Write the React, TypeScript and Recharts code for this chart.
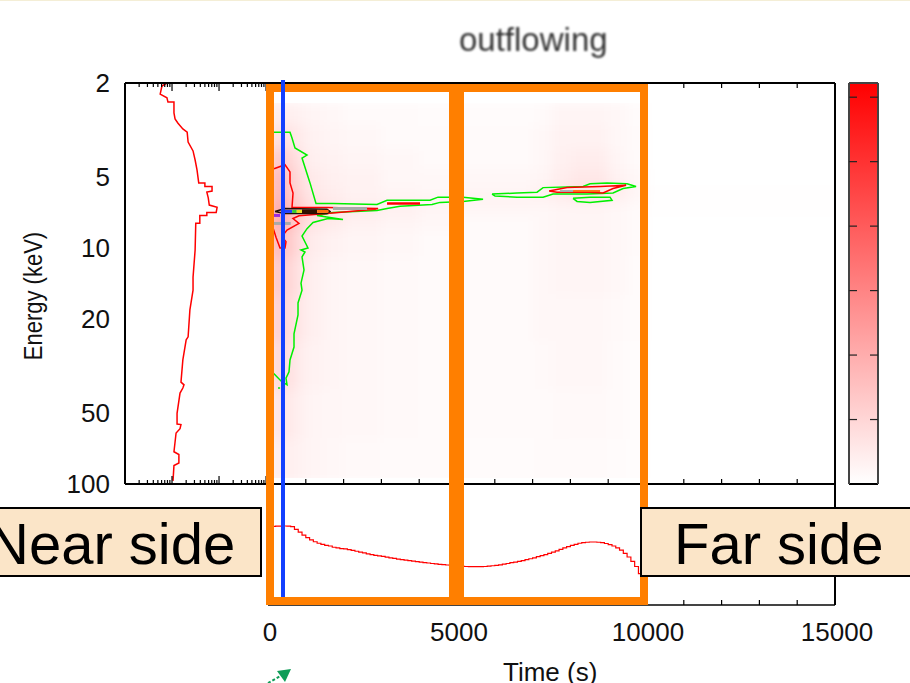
import React from 'react';
import { ComposedChart, Line, XAxis, YAxis, ReferenceArea } from 'recharts';

const W = 910;
const H = 683;
const FONT = '"Liberation Sans", Arial, sans-serif';

type Pair = [number, number];

// axis ticks
const timeTicks = [0, 1000, 2000, 3000, 4000, 5000, 6000, 7000, 8000, 9000, 10000, 11000, 12000, 13000, 14000, 15000];
const timeLabels = [0, 5000, 10000, 15000];
const energyTicks = [2, 3, 4, 5, 6, 7, 8, 9, 10, 20, 30, 40, 50, 60, 70, 80, 90, 100];
const energyLabels = [2, 5, 10, 20, 50, 100];
const energyMajor = [2, 5, 10, 20, 50, 100];
const countTicks = [2, 3, 4, 5, 6, 7, 8, 9, 10, 20, 30, 40, 50, 60, 70, 80, 90, 100, 200, 300, 400, 500, 600, 700, 800, 900, 1000];
const countMajor = [10, 100, 1000];
const rateTicks = [1, 2, 3, 4, 5, 6, 7, 8, 9, 10, 20, 30, 40, 50, 60, 70, 80, 90, 100, 200, 300, 400, 500, 600, 700, 800, 900, 1000];
const rateMajor = [1, 10, 100, 1000];
const barTicks = [1, 2, 3, 4, 5, 6];

// heat map: time bins, energy bins, red strength in percent
const heatTimes = [0, 250, 500, 750, 1000, 1500, 2000, 3000, 4000, 5000, 6000, 7000, 7500, 8000, 9000, 9500, 10000, 15000];
const heatEnergies = [2.4, 3, 3.8, 4.6, 5.4, 6, 6.6, 7.4, 8.5, 11, 16, 25, 40, 65, 100];
const heatValues = [
  [7, 7, 6, 5, 4, 3, 2, 2, 1.5, 1.5, 1.5, 2, 4, 4, 3, 1.5, 0],
  [12, 12, 10, 8, 5, 4, 3, 2, 2, 2, 2, 3, 5, 5, 3, 2, 0],
  [21, 20, 15, 10, 6, 5, 4, 3, 2, 2, 2, 3, 6, 7, 4, 2, 0],
  [28, 26, 19, 13, 8, 6, 5, 3, 3, 3, 3, 4, 7, 9, 5, 3, 0],
  [29, 27, 20, 14, 9, 7, 5, 4, 3, 4, 4, 6, 9, 12, 8, 4, 0.5],
  [31, 29, 22, 16, 10, 8, 6, 5, 5, 5, 5, 5, 6, 7, 5, 3, 0.5],
  [34, 34, 26, 20, 13, 10, 8, 6, 4, 3, 3, 3, 4, 4, 3, 2, 0.3],
  [33, 31, 23, 16, 10, 8, 5, 4, 3, 2, 2, 3, 4, 4, 3, 2, 0],
  [28, 26, 19, 13, 7, 5, 4, 3, 2, 2, 2, 3, 4, 4, 3, 2, 0],
  [22, 20, 15, 10, 6, 4, 3, 2.5, 2, 2, 2, 3, 4, 4, 3, 1.5, 0],
  [19, 17, 13, 9, 6, 4, 3, 2.5, 2, 2, 2, 3, 3, 3, 2.5, 1.5, 0],
  [15, 14, 11, 7, 5, 4, 3, 2.5, 2, 2, 2, 2.5, 3, 3, 2, 1, 0],
  [10, 10, 8, 6, 4, 3.5, 3, 2.5, 2, 2, 2, 2, 2.5, 2.5, 2, 1, 0],
  [7, 7, 6, 5, 4, 3, 2.5, 2, 2, 1.5, 1.5, 2, 2, 2, 1.5, 1, 0],
];

// contours, [time, energy]
const greenMain: Pair[] = [
  [132, 3.23], [582, 3.23], [635, 3.42], [714, 3.77], [1032, 4.04], [900, 4.16], [1111, 5.3], [1270, 6.48],
  [1720, 6.48], [2884, 6.54], [3149, 6.28], [4022, 6.28], [4287, 6.28], [4498, 6.09], [4816, 6.09], [5160, 6.09],
  [5689, 6.22], [5160, 6.35], [4551, 6.41], [4339, 6.54], [3493, 6.66], [3149, 6.8], [2884, 6.93], [1720, 7.07],
  [1297, 7.28], [1985, 7.57], [1588, 7.5], [1191, 7.8], [1032, 8.28], [900, 8.9], [1058, 10.0], [873, 10.2], [979, 10.4], [900, 10.9],
  [953, 12.4], [873, 14.1], [900, 15.1], [794, 17.1], [794, 19.2], [688, 23.1], [688, 26.3], [582, 29.8],
  [556, 33.5], [476, 35.6], [503, 38], [344, 36.6], [132, 33.8],
];
const greenStub: Pair[] = [[265, 39.2], [320, 39.2]];
const greenFar: Pair[] = [
  [5927, 5.91], [6589, 5.85], [7118, 5.8], [7277, 5.55], [8335, 5.49], [8520, 5.35], [8970, 5.3], [9499, 5.35],
  [9737, 5.49], [9393, 5.6], [9129, 5.85], [8441, 5.91], [7541, 5.91], [7277, 6.09], [6589, 6.09], [6006, 6.03], [5927, 5.91],
];
const greenSmall: Pair[] = [
  [8070, 6.16], [8520, 6.09], [9049, 6.09], [9102, 6.28], [8520, 6.41], [8176, 6.35], [8070, 6.16],
];
const redMain: Pair[] = [
  [159, 4.62], [450, 4.44], [582, 4.76], [582, 5.3], [662, 5.85], [635, 6.73], [1561, 6.73], [2911, 6.8], [2832, 6.86],
  [1561, 7.14], [820, 7.3], [660, 7.5], [820, 7.87], [503, 8.4], [370, 8.95], [476, 9.4], [450, 10.0], [318, 10.0], [212, 9.0], [132, 8.2],
];
const redStrip: Pair[] = [[3149, 6.48], [4022, 6.48]];
const redFar: Pair[] = [
  [7435, 5.74], [7911, 5.55], [8785, 5.49], [9473, 5.42], [9129, 5.6], [8864, 5.85], [8520, 5.8], [7647, 5.8], [7435, 5.74],
];
const blackNear: Pair[] = [
  [185, 7.0], [450, 6.8], [1561, 6.86], [1640, 7.0], [1561, 7.14], [450, 7.14], [185, 7.0],
];
const streaks: { color: string; width: number; pts: Pair[] }[] = [
  { color: '#9a2be0', width: 3, pts: [[132, 7.28], [318, 7.28]] },
  { color: '#2040ff', width: 3, pts: [[450, 7.0], [640, 7.0]] },
  { color: '#30d030', width: 3, pts: [[640, 7.0], [760, 7.0]] },
  { color: '#e8e020', width: 3, pts: [[760, 7.0], [900, 7.0]] },
  { color: '#301000', width: 4, pts: [[900, 7.0], [1300, 7.0]] },
  { color: '#ff7010', width: 3, pts: [[1300, 7.0], [1600, 7.0]] },
  { color: '#a9a9a9', width: 3, pts: [[1720, 6.8], [2620, 6.8]] },
  { color: '#a9a9a9', width: 3, pts: [[140, 7.87], [600, 7.87]] },
  { color: '#a9a9a9', width: 2, pts: [[7726, 5.74], [8070, 5.74]] },
  { color: '#ff7010', width: 2, pts: [[8070, 5.74], [8785, 5.74]] },
];

// left panel, energy profile: [counts, energy]
const profile: Pair[] = [
  [7.8, 2], [6.1, 2.06], [5.6, 2.23], [7.8, 2.31], [8.2, 2.41], [11, 2.41], [11, 2.68], [11.6, 2.84], [13.4, 2.96],
  [17, 3.13], [21, 3.23], [22, 3.56], [28, 3.88], [31, 4.24], [34, 4.67], [37, 5.3], [50, 5.3], [50, 5.49], [71, 5.49],
  [71, 5.74], [55, 5.8], [59, 6.13], [62, 6.58], [91, 6.73], [87, 7.07], [55, 7.07], [55, 7.28], [39, 7.28], [39, 7.85],
  [32, 7.85], [31, 10.2], [28, 13.3], [28, 15.1], [24, 18.3], [22, 23.8], [20, 24.5], [17, 29.8], [15.5, 37], [18, 38],
  [17, 39.2], [14.8, 41.2], [12.8, 50.2], [12.8, 55.7], [15.5, 56], [14.8, 58.3], [12.2, 60.8], [11, 73], [14, 75],
  [14, 81.5], [11, 83.5], [10.5, 97],
];

// bottom panel, light curve: 100 s bins, then the flat tail
const curveTimes = [
  0, 100, 200, 300, 400, 500, 600, 700, 800, 900, 1000, 1100, 1200, 1300, 1400, 1500, 1600, 1700, 1800, 1900,
  2000, 2100, 2200, 2300, 2400, 2500, 2600, 2700, 2800, 2900, 3000, 3100, 3200, 3300, 3400, 3500, 3600, 3700, 3800, 3900,
  4000, 4100, 4200, 4300, 4400, 4500, 4600, 4700, 4800, 4900, 5000, 5100, 5200, 5300, 5400, 5500, 5600, 5700, 5800, 5900,
  6000, 6100, 6200, 6300, 6400, 6500, 6600, 6700, 6800, 6900, 7000, 7100, 7200, 7300, 7400, 7500, 7600, 7700, 7800, 7900,
  8000, 8100, 8200, 8300, 8400, 8500, 8600, 8700, 8800, 8900, 9000, 9100, 9200, 9300, 9400, 9500, 9600, 9700, 9800, 9900,
  10000, 15000,
];
const curveRates = [
  89, 89, 90, 90, 91, 90, 88, 75, 64, 54, 47, 41, 37, 34, 32, 30, 29, 27, 26, 25,
  24.5, 23.5, 22.5, 21.5, 20.5, 19.5, 18.5, 17.7, 17, 16.5, 16, 15.4, 14.8, 14.3, 13.8, 13.4, 13, 12.6, 12.2, 11.9,
  11.6, 11.3, 11, 10.7, 10.5, 10.2, 10, 9.8, 9.6, 9.4, 9.2, 9.1, 9, 8.9, 8.9, 8.9, 8.9, 9, 9.2, 9.4,
  9.6, 9.9, 10.3, 10.7, 11.2, 11.6, 12, 12.6, 13.3, 14, 14.8, 15.8, 16.8, 17.8, 19, 20.5, 22, 24, 26, 28,
  30, 32, 34, 35, 36, 36.5, 36.5, 36, 35, 33.5, 31.5, 29, 26, 23, 19, 15.5, 12, 9, 6, 4,
  1, 1,
];
const lightCurve = curveTimes.map((a, i) => ({ a, b: curveRates[i] }));

const toPoints = (pairs: Pair[]) => pairs.map(([a, b]) => ({ a, b }));

const chartBox: React.CSSProperties = { position: 'absolute', left: 0, top: 0 };

// ticks that point into the plot, recharts only knows outward ones
const VTick = (props: any) => {
  const { x, y, payload, dir, major, long, short, labels, stroke } = props;
  const isMajor = major ? major.includes(payload.value) : true;
  const len = isMajor ? long : short;
  return (
    <g>
      <line x1={x} x2={x + dir * len} y1={y} y2={y} stroke={stroke || '#000'} strokeWidth={1.2} />
      {labels && labels.includes(payload.value) ? (
        <text x={x - 15} y={y + 9} textAnchor="end" fontSize={26} fontFamily={FONT} fill="#111">
          {payload.value}
        </text>
      ) : null}
    </g>
  );
};

const HTick = (props: any) => {
  const { x, y, payload, major, long, short, labels, dir = -1 } = props;
  const isMajor = major ? major.includes(payload.value) : true;
  const len = isMajor ? long : short;
  return (
    <g>
      <line x1={x} x2={x} y1={y} y2={y + dir * len} stroke="#000" strokeWidth={1.2} />
      {labels && labels.includes(payload.value) ? (
        <text x={x + 2} y={y + 36} textAnchor="middle" fontSize={26} fontFamily={FONT} fill="#111">
          {payload.value}
        </text>
      ) : null}
    </g>
  );
};

const axisLine = { stroke: '#000', strokeWidth: 2 };

// drawn in its own layer so the wrapper can soften the cell edges
const HeatPanel = () => (
  <ComposedChart width={W} height={H} margin={{ left: 268, right: 75, top: 83, bottom: 199 }} data={[{ a: 0, b: 2 }, { a: 15000, b: 100 }]}>
    <XAxis xAxisId="b" dataKey="a" type="number" domain={[0, 15000]} hide />
    <YAxis yAxisId="l" dataKey="b" type="number" scale="log" domain={[2, 100]} reversed allowDataOverflow hide />
    {heatValues.map((row, i) =>
      row.map((v, j) => (
        <ReferenceArea key={`${i}-${j}`} xAxisId="b" yAxisId="l" x1={heatTimes[j]} x2={heatTimes[j + 1]} y1={heatEnergies[i]} y2={heatEnergies[i + 1]}
          fill="#ff0000" fillOpacity={v / 100} stroke="none" />
      )),
    )}
  </ComposedChart>
);

const MainPanel = () => (
  <ComposedChart width={W} height={H} margin={{ left: 267, right: 74, top: 82, bottom: 198 }}>
    <XAxis xAxisId="b" dataKey="a" type="number" domain={[0, 15000]} ticks={timeTicks} interval={0} orientation="bottom" height={1}
      tickSize={0} tickMargin={0} axisLine={axisLine} tickLine={false} allowDataOverflow
      tick={(p: any) => <HTick {...p} long={5} short={5} />} />
    <XAxis xAxisId="t" dataKey="a" type="number" domain={[0, 15000]} ticks={timeTicks} interval={0} orientation="top" height={1}
      tickSize={0} tickMargin={0} axisLine={axisLine} tickLine={false} allowDataOverflow
      tick={(p: any) => <HTick {...p} long={5} short={5} dir={1} />} />
    <YAxis yAxisId="l" dataKey="b" type="number" scale="log" domain={[2, 100]} reversed allowDataOverflow ticks={energyTicks} interval={0}
      orientation="left" width={1} tickSize={0} tickMargin={0} axisLine={axisLine} tickLine={false}
      tick={(p: any) => <VTick {...p} dir={1} major={energyMajor} long={8} short={4} />} />
    <YAxis yAxisId="r" dataKey="b" type="number" scale="log" domain={[2, 100]} reversed allowDataOverflow ticks={energyTicks} interval={0}
      orientation="right" width={1} tickSize={0} tickMargin={0} axisLine={axisLine} tickLine={false}
      tick={(p: any) => <VTick {...p} dir={-1} major={energyMajor} long={11} short={5} />} />
    {[greenMain, greenStub, greenFar, greenSmall].map((pts, i) => (
      <Line key={`g${i}`} xAxisId="b" yAxisId="l" data={toPoints(pts)} dataKey="b" stroke="#00f000" strokeWidth={1.5} dot={false} isAnimationActive={false} />
    ))}
    {[redMain, redFar].map((pts, i) => (
      <Line key={`r${i}`} xAxisId="b" yAxisId="l" data={toPoints(pts)} dataKey="b" stroke="#ff0000" strokeWidth={1.5} dot={false} isAnimationActive={false} />
    ))}
    <Line xAxisId="b" yAxisId="l" data={toPoints(redStrip)} dataKey="b" stroke="#ff0000" strokeWidth={2.5} dot={false} isAnimationActive={false} />
    <Line xAxisId="b" yAxisId="l" data={toPoints(blackNear)} dataKey="b" stroke="#201008" strokeWidth={1.5} dot={false} isAnimationActive={false} />
    {streaks.map((s, i) => (
      <Line key={`s${i}`} xAxisId="b" yAxisId="l" data={toPoints(s.pts)} dataKey="b" stroke={s.color} strokeWidth={s.width} dot={false} isAnimationActive={false} />
    ))}
  </ComposedChart>
);

const ProfilePanel = () => (
  <ComposedChart width={W} height={H} margin={{ left: 124, right: W - 269, top: 82, bottom: 198 }}>
    <XAxis xAxisId="b" dataKey="a" type="number" scale="log" domain={[1, 1100]} allowDataOverflow ticks={countTicks} interval={0} orientation="bottom" height={1}
      tickSize={0} tickMargin={0} axisLine={axisLine} tickLine={false}
      tick={(p: any) => <HTick {...p} major={countMajor} long={8} short={4} />} />
    <XAxis xAxisId="t" dataKey="a" type="number" scale="log" domain={[1, 1100]} allowDataOverflow ticks={countTicks} interval={0} orientation="top" height={1}
      tickSize={0} tickMargin={0} axisLine={axisLine} tickLine={false}
      tick={(p: any) => <HTick {...p} major={countMajor} long={8} short={4} dir={1} />} />
    <YAxis yAxisId="l" dataKey="b" type="number" scale="log" domain={[2, 100]} reversed allowDataOverflow ticks={energyTicks} interval={0}
      orientation="left" width={1} tickSize={0} tickMargin={0} axisLine={axisLine} tickLine={false}
      tick={(p: any) => <VTick {...p} dir={1} major={energyMajor} long={8} short={4} labels={energyLabels} />} />
    <YAxis yAxisId="r" dataKey="b" type="number" scale="log" domain={[2, 100]} reversed allowDataOverflow ticks={energyTicks} interval={0}
      orientation="right" width={1} tickSize={0} tickMargin={0} axisLine={false} tickLine={false}
      tick={(p: any) => <VTick {...p} dir={-1} major={energyMajor} long={8} short={4} />} />
    <Line xAxisId="b" yAxisId="l" data={toPoints(profile)} dataKey="b" stroke="#ff0000" strokeWidth={1.5} dot={false} isAnimationActive={false} />
  </ComposedChart>
);

const LightCurvePanel = () => (
  <ComposedChart width={W} height={H} margin={{ left: 267, right: 74, top: 484, bottom: H - 606 }}>
    <XAxis xAxisId="b" dataKey="a" type="number" domain={[0, 15000]} allowDataOverflow ticks={timeTicks} interval={0} orientation="bottom" height={1}
      tickSize={0} tickMargin={0} axisLine={{ stroke: '#444', strokeWidth: 2 }} tickLine={false}
      tick={(p: any) => <HTick {...p} long={5} short={5} labels={timeLabels} />} />
    <YAxis yAxisId="l" dataKey="b" type="number" scale="log" domain={[1, 1000]} allowDataOverflow ticks={rateTicks} interval={0}
      orientation="left" width={1} tickSize={0} tickMargin={0} axisLine={axisLine} tickLine={false}
      tick={(p: any) => <VTick {...p} dir={1} major={rateMajor} long={8} short={4} />} />
    <YAxis yAxisId="r" dataKey="b" type="number" scale="log" domain={[1, 1000]} allowDataOverflow ticks={rateTicks} interval={0}
      orientation="right" width={1} tickSize={0} tickMargin={0} axisLine={axisLine} tickLine={false}
      tick={(p: any) => <VTick {...p} dir={-1} major={rateMajor} long={8} short={4} />} />
    <Line xAxisId="b" yAxisId="l" type="stepAfter" data={lightCurve} dataKey="b" stroke="#ff0000" strokeWidth={1.2} dot={false} isAnimationActive={false} />
  </ComposedChart>
);

const ColorBar = () => (
  <ComposedChart width={W} height={H} margin={{ left: 848, right: W - 879, top: 82, bottom: 198 }} data={[{ a: 0, b: 0 }, { a: 1, b: 6.22 }]}>
    <defs>
      <linearGradient id="barGrad" x1="0" y1="1" x2="0" y2="0">
        <stop offset="0%" stopColor="#ffffff" />
        <stop offset="100%" stopColor="#ff0000" />
      </linearGradient>
    </defs>
    <ReferenceArea xAxisId="b" yAxisId="l" x1={0} x2={1} y1={0} y2={6.22} fill="url(#barGrad)" fillOpacity={1} stroke="none" />
    <XAxis xAxisId="b" dataKey="a" type="number" domain={[0, 1]} orientation="bottom" height={1} tick={false} tickLine={false} axisLine={axisLine} />
    <XAxis xAxisId="t" dataKey="a" type="number" domain={[0, 1]} orientation="top" height={1} tick={false} tickLine={false} axisLine={{ stroke: '#444', strokeWidth: 2 }} />
    <YAxis yAxisId="l" dataKey="b" type="number" domain={[0, 6.22]} ticks={barTicks} interval={0} orientation="left" width={1} tickSize={0} tickMargin={0}
      axisLine={{ stroke: '#444', strokeWidth: 2 }} tickLine={false} tick={(p: any) => <VTick {...p} dir={1} long={8} short={8} stroke="#222" />} />
    <YAxis yAxisId="r" dataKey="b" type="number" domain={[0, 6.22]} ticks={barTicks} interval={0} orientation="right" width={1} tickSize={0} tickMargin={0}
      axisLine={{ stroke: '#444', strokeWidth: 2 }} tickLine={false} tick={(p: any) => <VTick {...p} dir={-1} long={8} short={8} stroke="#222" />} />
  </ComposedChart>
);

const callout: React.CSSProperties = {
  position: 'absolute',
  top: 507,
  height: 70,
  boxSizing: 'border-box',
  background: '#fbe5c8',
  border: '2px solid #000',
  fontSize: 58,
  lineHeight: '70px',
  color: '#000',
  whiteSpace: 'nowrap',
};

export default function App() {
  return (
    <div style={{ position: 'absolute', left: 0, top: 0, width: W, height: H, overflow: 'hidden', background: '#fff', fontFamily: FONT }}>
      <div style={{ position: 'absolute', left: 0, top: 0, width: W, height: 1, background: '#f4eed6' }} />
      <div style={{ position: 'absolute', left: 268, top: 103, width: 567, height: 375, overflow: 'hidden' }}>
        <div style={{ position: 'absolute', left: -268, top: -103, filter: 'blur(6px)' }}><HeatPanel /></div>
      </div>
      <div style={chartBox}><MainPanel /></div>
      <div style={chartBox}><ProfilePanel /></div>
      <div style={chartBox}><LightCurvePanel /></div>
      <div style={chartBox}><ColorBar /></div>

      <div style={{ position: 'absolute', left: 266, top: 84, width: 191, height: 521, boxSizing: 'border-box', border: '8px solid #ff7f00' }} />
      <div style={{ position: 'absolute', left: 456, top: 84, width: 192, height: 521, boxSizing: 'border-box', border: '8px solid #ff7f00' }} />
      <div style={{ position: 'absolute', left: 281, top: 80, width: 4, height: 517, background: '#1240ff' }} />

      <div style={{ ...callout, left: -20, width: 282 }}>
        <span style={{ position: 'absolute', left: 5, top: 0 }}>Near side</span>
      </div>
      <div style={{ ...callout, left: 640, width: 300 }}>
        <span style={{ position: 'absolute', left: 32, top: 0 }}>Far side</span>
      </div>

      <div style={{ position: 'absolute', left: 459, top: 21, fontSize: 33, color: '#333', filter: 'blur(0.9px)', whiteSpace: 'nowrap' }}>outflowing</div>
      <div style={{ position: 'absolute', left: 503, top: 657, fontSize: 26, color: '#111', whiteSpace: 'nowrap' }}>Time (s)</div>
      <div style={{ position: 'absolute', left: 34, top: 296, fontSize: 22, color: '#111', whiteSpace: 'nowrap', transform: 'translate(-50%, -50%) rotate(-90deg) scale(1, 1.18)' }}>Energy (keV)</div>

      <svg width={40} height={30} style={{ position: 'absolute', left: 262, top: 660 }}>
        <line x1={6} y1={23} x2={20} y2={15} stroke="#0f9d58" strokeWidth={2} strokeDasharray="3 2" />
        <polygon points="29,9 15,11 23,22" fill="#0f9d58" />
      </svg>
    </div>
  );
}
